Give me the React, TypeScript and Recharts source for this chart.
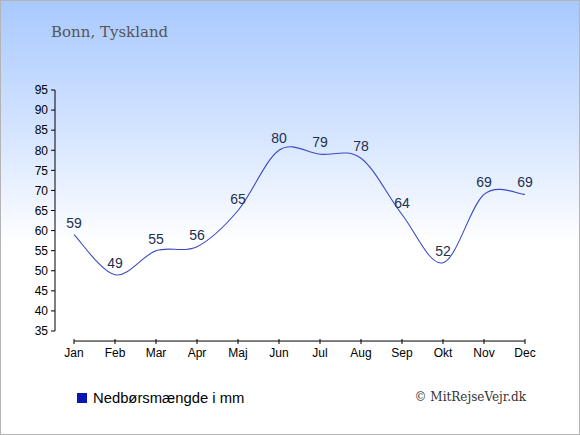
import React from 'react';
import { LineChart, Line, XAxis, YAxis, LabelList, ReferenceLine } from 'recharts';

const months = ['Jan', 'Feb', 'Mar', 'Apr', 'Maj', 'Jun', 'Jul', 'Aug', 'Sep', 'Okt', 'Nov', 'Dec'];
const rainfall = [59, 49, 55, 56, 65, 80, 79, 78, 64, 52, 69, 69];
const yTicks = [35, 40, 45, 50, 55, 60, 65, 70, 75, 80, 85, 90, 95];

const data = months.map((month, i) => ({ month, rain: rainfall[i] }));

// catmull-rom style spline, the original curve overshoots between points
const splineCurve = (context: any) => {
  let pts: number[][] = [];
  return {
    areaStart() {},
    areaEnd() {},
    lineStart() {
      pts = [];
    },
    lineEnd() {
      if (!pts.length) return;
      context.moveTo(pts[0][0], pts[0][1]);
      for (let i = 0; i < pts.length - 1; i++) {
        const p0 = pts[i - 1] || pts[i];
        const p1 = pts[i];
        const p2 = pts[i + 1];
        const p3 = pts[i + 2] || p2;
        context.bezierCurveTo(
          p1[0] + (p2[0] - p0[0]) / 6,
          p1[1] + (p2[1] - p0[1]) / 6,
          p2[0] - (p3[0] - p1[0]) / 6,
          p2[1] - (p3[1] - p1[1]) / 6,
          p2[0],
          p2[1]
        );
      }
    },
    point(x: number, y: number) {
      pts.push([+x, +y]);
    },
  };
};

const sans = 'Arial, "Liberation Sans", sans-serif';
const serif = '"DejaVu Serif", Georgia, serif';

const MonthTick = (props: any) => {
  const { x, y, payload } = props;
  return (
    <g>
      <line x1={x} x2={x} y1={y + 8} y2={y + 13} stroke="#000" />
      <text x={x} y={y + 26} textAnchor="middle" fontSize={12} fontFamily={sans} fill="#000">
        {payload.value}
      </text>
    </g>
  );
};

export default function App() {
  return (
    <div
      style={{
        position: 'absolute',
        left: 0,
        top: 0,
        width: 580,
        height: 435,
        boxSizing: 'border-box',
        border: '1px solid #b4b4b4',
        background: 'linear-gradient(to bottom, #a8c9ff 0%, #dce9ff 35%, #ffffff 56%, #ffffff 100%)',
        overflow: 'hidden',
      }}
    >
      <div
        style={{
          position: 'absolute',
          left: 50,
          top: 22,
          fontFamily: serif,
          fontSize: 15,
          color: '#555',
        }}
      >
        Bonn, Tyskland
      </div>
      <div style={{ position: 'absolute', left: -1, top: -1 }}>
        <LineChart width={580} height={435} data={data} margin={{ top: 90, right: 36, bottom: 74, left: 0 }}>
          <XAxis
            dataKey="month"
            padding={{ left: 19, right: 19 }}
            axisLine={false}
            tickLine={false}
            tickSize={0}
            tickMargin={0}
            height={30}
            interval={0}
            tick={<MonthTick />}
          />
          <YAxis
            width={55}
            domain={[35, 95]}
            ticks={yTicks}
            interval={0}
            tickSize={4}
            tickMargin={3}
            axisLine={{ stroke: '#000' }}
            tickLine={{ stroke: '#000' }}
            tick={{ fontSize: 12, fontFamily: sans, fill: '#000' }}
          />
          <ReferenceLine
            segment={[
              { x: months[0], y: 32.5 },
              { x: months[months.length - 1], y: 32.5 },
            ]}
            stroke="#000"
            ifOverflow="visible"
          />
          <Line
            dataKey="rain"
            type={splineCurve as any}
            stroke="#3a4ac4"
            strokeWidth={1.1}
            dot={false}
            isAnimationActive={false}
          >
            <LabelList
              dataKey="rain"
              position="top"
              offset={7}
              fontSize={14}
              fontFamily={sans}
              fill="#22304f"
            />
          </Line>
        </LineChart>
      </div>
      <div
        style={{
          position: 'absolute',
          left: 76,
          top: 389,
          display: 'flex',
          alignItems: 'center',
          fontFamily: sans,
          fontSize: 14.8,
          color: '#000',
        }}
      >
        <span style={{ display: 'inline-block', width: 10, height: 10, background: '#0a16b0', marginRight: 6 }} />
        Nedbørsmængde i mm
      </div>
      <div
        style={{
          position: 'absolute',
          right: 53,
          top: 389,
          fontFamily: serif,
          fontSize: 12,
          color: '#333',
        }}
      >
        © MitRejseVejr.dk
      </div>
    </div>
  );
}
